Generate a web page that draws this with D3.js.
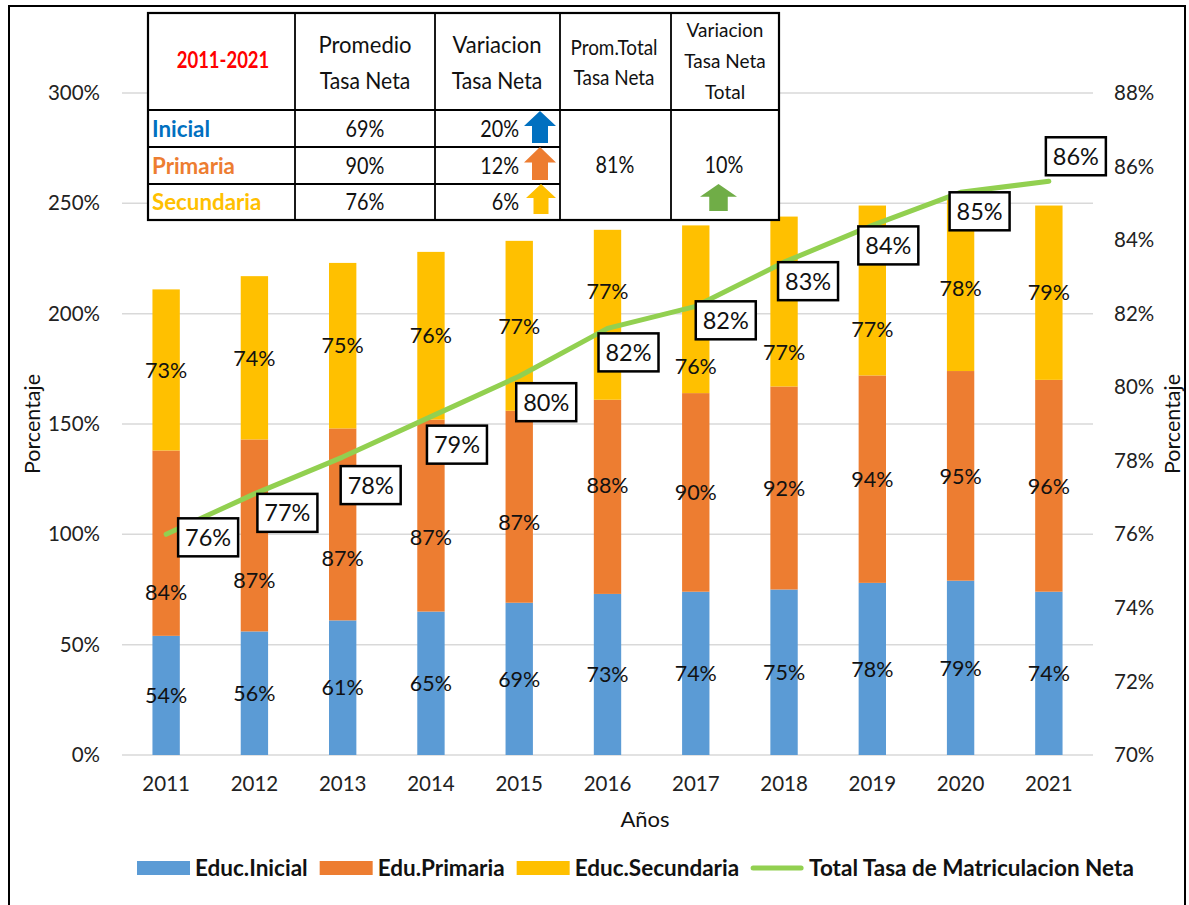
<!DOCTYPE html>
<html><head><meta charset="utf-8">
<script src="https://cdn.jsdelivr.net/npm/d3@7"></script>
<style>
html,body{margin:0;padding:0;background:#fff;}
svg{display:block;}
</style></head>
<body>
<svg id="chart" width="1189" height="905"></svg>
<script>
// ---------- DATA ----------
const years = ["2011","2012","2013","2014","2015","2016","2017","2018","2019","2020","2021"];
const inicial = [54,56,61,65,69,73,74,75,78,79,74];
const primaria = [84,87,87,87,87,88,90,92,94,95,96];
const secundaria = [73,74,75,76,77,77,76,77,77,78,79];
const totalNeta = [76.0,77.1,78.1,79.2,80.3,81.6,82.2,83.4,84.4,85.3,85.6];
const leftTicks = [0,50,100,150,200,250,300];
const rightTicks = [70,72,74,76,78,80,82,84,86,88];
const seriesNames = ["Educ.Inicial","Edu.Primaria","Educ.Secundaria"];
const lineName = "Total Tasa de Matriculacion Neta";
const tableLevels = ["Inicial","Primaria","Secundaria"];
const tablePromedio = ["69%","90%","76%"];
const tableVariacion = ["20%","12%","6%"];
const tablePromTotal = "81%";
const tableVarTotal = "10%";
const tablePeriod = "2011-2021";

// ---------- LAYOUT (not data) ----------
const colors = ["#5B9BD5","#ED7D31","#FFC000"];
const lineColor = "#92D050";
// manual label nudges (px) as placed in the original
const segNudge = [
  [0,0,0,0,0,0,0,0,0,0,0],
  [49,45,34,22,16,-12,0,0,0,0,0],
  [0,0,0,0,0,-24,57,51,39,3,0]
];
const lineLabelNudge = [[42,3],[33,19],[28,28],[26,28],[27,26],[21,24],[30,14],[24,19],[16,20],[19,19],[27,-25]];

const svg = d3.select("#chart");
const FONT = "Lato, 'Open Sans', sans-serif";

// outer border
svg.append("rect").attr("x",9).attr("y",6).attr("width",1176).attr("height",905)
  .attr("fill","none").attr("stroke","#000").attr("stroke-width",2);

const x = d3.scaleBand().domain(years).range([122,1093]).paddingInner(0.69).paddingOuter(0.345);
const yL = d3.scaleLinear().domain([0,300]).range([755,93]);
const yR = d3.scaleLinear().domain([70,88]).range([755,93]);

// gridlines
svg.append("g").selectAll("line").data(leftTicks).join("line")
  .attr("x1",122).attr("x2",1093).attr("y1",d=>yL(d)).attr("y2",d=>yL(d))
  .attr("stroke","#D9D9D9").attr("stroke-width",1.5);

// axes
const axL = svg.append("g").attr("transform","translate(122,0)")
  .call(d3.axisLeft(yL).tickValues(leftTicks).tickFormat(d=>d+"%").tickSize(0).tickPadding(22));
const axR = svg.append("g").attr("transform","translate(1093,0)")
  .call(d3.axisRight(yR).tickValues(rightTicks).tickFormat(d=>d+"%").tickSize(0).tickPadding(21));
const axB = svg.append("g").attr("transform","translate(0,755)")
  .call(d3.axisBottom(x).tickSize(0).tickPadding(21));
[axL,axR,axB].forEach(a=>{
  a.select(".domain").remove();
  a.selectAll("text").attr("font-family",FONT).attr("font-size",20.5).attr("fill","#222");
});

// stacked bars
const table = years.map((yr,i)=>({year:yr, a:inicial[i], b:primaria[i], c:secundaria[i]}));
const stack = d3.stack().keys(["a","b","c"])(table);
stack.forEach((s,si)=>{
  const g = svg.append("g");
  g.selectAll("rect").data(s).join("rect")
    .attr("x",d=>x(d.data.year)).attr("width",x.bandwidth())
    .attr("y",d=>yL(d[1])).attr("height",d=>yL(d[0])-yL(d[1]))
    .attr("fill",colors[si]);
});
stack.forEach((s,si)=>{
  svg.append("g").selectAll("text").data(s).join("text")
    .attr("x",d=>x(d.data.year)+x.bandwidth()/2)
    .attr("y",(d,i)=>(yL(d[0])+yL(d[1]))/2 + segNudge[si][i])
    .attr("dy","0.36em").attr("text-anchor","middle")
    .attr("font-family",FONT).attr("font-size",21.5).attr("fill","#111")
    .text(d=>(d[1]-d[0])+"%");
});

// line
const cx = i=>x(years[i])+x.bandwidth()/2;
svg.append("path").datum(totalNeta)
  .attr("d",d3.line().x((d,i)=>cx(i)).y(d=>yR(d)))
  .attr("fill","none").attr("stroke",lineColor).attr("stroke-width",5)
  .attr("stroke-linecap","round").attr("stroke-linejoin","round");

// line labels
const ll = svg.append("g").selectAll("g").data(totalNeta).join("g")
  .attr("transform",(d,i)=>`translate(${cx(i)+lineLabelNudge[i][0]},${yR(d)+lineLabelNudge[i][1]})`);
ll.append("rect").attr("x",-30).attr("y",-19).attr("width",60).attr("height",38)
  .attr("fill","#fff").attr("stroke","#000").attr("stroke-width",2.5);
ll.append("text").attr("text-anchor","middle").attr("dy","0.36em")
  .attr("font-family",FONT).attr("font-size",23.5).attr("fill","#111")
  .text(d=>Math.round(d)+"%");

// axis titles
svg.append("text").attr("transform","translate(40,424) rotate(-90)").attr("text-anchor","middle")
  .attr("font-family",FONT).attr("font-size",21.5).attr("fill","#111").text("Porcentaje");
svg.append("text").attr("transform","translate(1180,424) rotate(-90)").attr("text-anchor","middle")
  .attr("font-family",FONT).attr("font-size",21.5).attr("fill","#111").text("Porcentaje");
svg.append("text").attr("x",645).attr("y",827).attr("text-anchor","middle")
  .attr("font-family",FONT).attr("font-size",22).attr("fill","#111").text("Años");

// legend
const legItems = seriesNames.map((n,i)=>({name:n,color:colors[i],type:"rect"})).concat([{name:lineName,color:lineColor,type:"line"}]);
const leg = svg.append("g");
let lx = 137;
legItems.forEach(it=>{
  const g = leg.append("g").attr("transform",`translate(${lx},868)`);
  if(it.type==="rect") g.append("rect").attr("x",0).attr("y",-7).attr("width",53).attr("height",14).attr("fill",it.color);
  else g.append("line").attr("x1",2).attr("x2",50).attr("y1",0).attr("y2",0).attr("stroke",it.color).attr("stroke-width",5).attr("stroke-linecap","round");
  const t = g.append("text").attr("x",58).attr("dy","0.36em").attr("font-family",FONT)
    .attr("font-weight","bold").attr("font-size",22.5).attr("fill","#111").text(it.name);
  lx += 58 + t.node().getComputedTextLength() + 12;
});

// ---------- TABLE ----------
const cols = [148,295,435,560,671,779];
const rows = [13,110,147,184,220];
const tg = svg.append("g");
tg.append("rect").attr("x",cols[0]).attr("y",rows[0]).attr("width",cols[5]-cols[0]).attr("height",rows[4]-rows[0])
  .attr("fill","#fff").attr("stroke","#000").attr("stroke-width",2.2);
cols.slice(1,5).forEach(c=>tg.append("line").attr("x1",c).attr("x2",c).attr("y1",rows[0]).attr("y2",rows[4]).attr("stroke","#000").attr("stroke-width",1.8));
tg.append("line").attr("x1",cols[0]).attr("x2",cols[5]).attr("y1",rows[1]).attr("y2",rows[1]).attr("stroke","#000").attr("stroke-width",2);
[rows[2],rows[3]].forEach(r=>tg.append("line").attr("x1",cols[0]).attr("x2",cols[3]).attr("y1",r).attr("y2",r).attr("stroke","#000").attr("stroke-width",1.8));

function ttext(xp,yp,s,opt={}){
  const sx = opt.sx||0.86;
  return tg.append("text").attr("transform",`translate(${xp},${yp}) scale(${sx},1)`).attr("dy","0.36em")
    .attr("text-anchor",opt.anchor||"middle").attr("font-family",FONT)
    .attr("font-size",opt.size||24).attr("font-weight",opt.weight||"normal")
    .attr("fill",opt.fill||"#111").text(s);
}
ttext(223,60,tablePeriod,{fill:"#FF0000",weight:"bold",size:22,sx:0.84});
ttext(365,44,"Promedio",{sx:0.92}); ttext(365,80,"Tasa Neta",{sx:0.88});
ttext(497,44,"Variacion",{sx:0.92}); ttext(497,80,"Tasa  Neta",{sx:0.88});
ttext(614,47,"Prom.Total",{size:21,sx:0.9}); ttext(614,77,"Tasa Neta",{size:21,sx:0.9});
ttext(725,30,"Variacion",{size:20,sx:0.95}); ttext(725,61,"Tasa  Neta",{size:20,sx:0.95}); ttext(725,92,"Total",{size:20,sx:0.95});
const rowMid = [128.5,165.5,202];
tableLevels.forEach((lv,i)=>{
  ttext(152,rowMid[i],lv,{anchor:"start",weight:"bold",fill:i===0?"#0070C0":colors[i],size:23.5,sx:0.95});
  ttext(365,rowMid[i],tablePromedio[i],{size:23});
  ttext(519,rowMid[i],tableVariacion[i],{anchor:"end",size:23});
});
ttext(615,165,tablePromTotal,{size:23});
ttext(724,165,tableVarTotal,{size:23});

function arrow(x0,y0,w,h,fill){
  const sw = w*0.5, hh = h*0.47, cxm = x0+w/2;
  const p = `M${cxm},${y0} L${x0+w},${y0+hh} L${cxm+sw/2},${y0+hh} L${cxm+sw/2},${y0+h} L${cxm-sw/2},${y0+h} L${cxm-sw/2},${y0+hh} L${x0},${y0+hh} Z`;
  tg.append("path").attr("d",p).attr("fill",fill);
}
arrow(524,111,32,32,"#0070C0");
arrow(524,147,32,33,"#ED7D31");
arrow(526,184,30,30,"#FFC000");
arrow(700,184,37,27,"#70AD47");
</script>
</body></html>
